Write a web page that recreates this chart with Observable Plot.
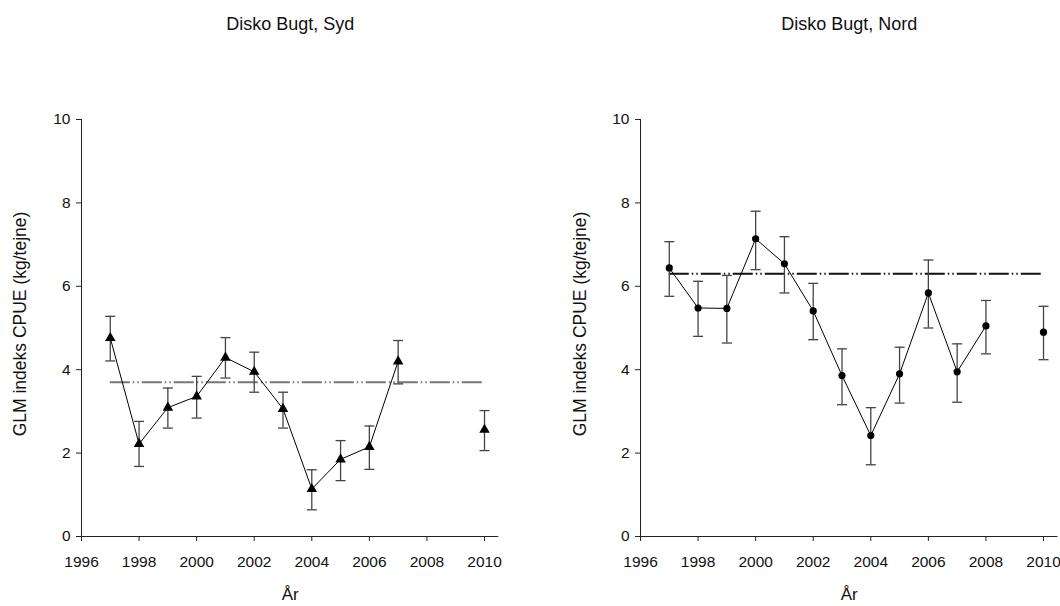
<!DOCTYPE html>
<html>
<head>
<meta charset="utf-8">
<script src="https://cdn.jsdelivr.net/npm/d3@7"></script>
<script src="https://cdn.jsdelivr.net/npm/@observablehq/plot@0.6"></script>
<style>
  html, body { margin: 0; padding: 0; background: #fff; }
  #wrap { display: flex; width: 1060px; height: 606px; }
  svg { font-family: "Liberation Sans", Arial, sans-serif; }
</style>
</head>
<body>
<div id="wrap"></div>
<script>
// ---- Data ----
const sydYears = [1997, 1998, 1999, 2000, 2001, 2002, 2003, 2004, 2005, 2006, 2007, 2010];
const sydCpue  = [4.76, 2.22, 3.09, 3.36, 4.29, 3.95, 3.06, 1.14, 1.85, 2.15, 4.20, 2.56];
const sydLower = [4.21, 1.68, 2.60, 2.84, 3.80, 3.46, 2.60, 0.64, 1.34, 1.61, 3.66, 2.06];
const sydUpper = [5.28, 2.76, 3.56, 3.84, 4.77, 4.42, 3.46, 1.60, 2.30, 2.65, 4.70, 3.02];
const sydRef = 3.70;

const nordYears = [1997, 1998, 1999, 2000, 2001, 2002, 2003, 2004, 2005, 2006, 2007, 2008, 2010];
const nordCpue  = [6.44, 5.48, 5.47, 7.14, 6.54, 5.41, 3.86, 2.42, 3.90, 5.84, 3.95, 5.05, 4.90];
const nordLower = [5.76, 4.80, 4.64, 6.40, 5.84, 4.72, 3.16, 1.72, 3.20, 5.00, 3.22, 4.38, 4.24];
const nordUpper = [7.07, 6.12, 6.26, 7.80, 7.19, 6.07, 4.50, 3.09, 4.54, 6.63, 4.62, 5.66, 5.52];
const nordRef = 6.30;

const refStart = 1997, refEnd = 2010;
const xTicks = [1996, 1998, 2000, 2002, 2004, 2006, 2008, 2010];
const yTicks = [0, 2, 4, 6, 8, 10];
const xDomain = [1996, 2010.5];
const yDomain = [0, 10];
const yLabel = "GLM indeks CPUE (kg/tejne)";
const xLabel = "År";

// horizontal cap symbol (fixed pixel width)
const capSymbol = { draw(ctx) { ctx.moveTo(-5, 0); ctx.lineTo(5, 0); } };

function panel({title, years, cpue, lower, upper, ref, symbol, r, refStroke, marginLeft, marginRight, yLabelDx}) {
  const data = years.map((y, i) => ({year: y, v: cpue[i], lo: lower[i], hi: upper[i]}));
  const connected = data.filter(d => d.year < 2009);
  return Plot.plot({
    width: 530,
    height: 606,
    marginLeft, marginRight,
    marginTop: 119,
    marginBottom: 70,
    x: {domain: xDomain, axis: null},
    y: {domain: yDomain, axis: null},
    style: {fontFamily: "Liberation Sans, Arial, sans-serif", background: "#fff", overflow: "visible"},
    marks: [
      // axes lines
      Plot.ruleX([xDomain[0]], {y1: yDomain[0], y2: yDomain[1], stroke: "#222", strokeWidth: 1}),
      Plot.ruleY([yDomain[0]], {x1: xDomain[0], x2: xDomain[1], stroke: "#222", strokeWidth: 1}),
      Plot.axisX(xTicks, {tickSize: 5, tickPadding: 14, tickFormat: d => String(d), fontSize: 15.5, stroke: "#222", fill: "#111", label: null}),
      Plot.axisY(yTicks, {tickSize: 5, tickPadding: 6, tickFormat: d => String(d), fontSize: 15.5, stroke: "#222", fill: "#111", label: null}),
      // reference line
      Plot.ruleY([ref], {x1: refStart, x2: refEnd, stroke: refStroke, strokeWidth: 2, strokeDasharray: "20,3,1.5,3,1.5,3"}),
      // error bars
      Plot.ruleX(data, {x: "year", y1: "lo", y2: "hi", stroke: "#444", strokeWidth: 1.3}),
      Plot.dot(data, {x: "year", y: "lo", symbol: capSymbol, stroke: "#444", strokeWidth: 1.3, r: 5}),
      Plot.dot(data, {x: "year", y: "hi", symbol: capSymbol, stroke: "#444", strokeWidth: 1.3, r: 5}),
      // connecting line
      Plot.line(connected, {x: "year", y: "v", stroke: "#000", strokeWidth: 1}),
      // markers
      Plot.dot(data, {x: "year", y: "v", symbol, r, fill: "#000", stroke: "none"}),
      // texts
      Plot.text([title], {frameAnchor: "top", lineAnchor: "middle", textAnchor: "middle", dy: -95, fontSize: 18, fill: "#111"}),
      Plot.text([xLabel], {frameAnchor: "bottom", lineAnchor: "middle", textAnchor: "middle", dy: 58, fontSize: 17, fill: "#111"}),
      Plot.text([yLabel], {frameAnchor: "left", lineAnchor: "middle", textAnchor: "middle", dx: yLabelDx, dy: -4, rotate: -90, fontSize: 17.5, fill: "#111"})
    ]
  });
}

const wrap = document.getElementById("wrap");
wrap.append(panel({
  title: "Disko Bugt, Syd", years: sydYears, cpue: sydCpue, lower: sydLower, upper: sydUpper,
  ref: sydRef, symbol: "triangle", r: 3.9, refStroke: "#777",
  marginLeft: 81, marginRight: 31.6, yLabelDx: -61
}));
wrap.append(panel({
  title: "Disko Bugt, Nord", years: nordYears, cpue: nordCpue, lower: nordLower, upper: nordUpper,
  ref: nordRef, symbol: "circle", r: 3.6, refStroke: "#111",
  marginLeft: 110, marginRight: 2.6, yLabelDx: -60
}));
</script>
</body>
</html>
